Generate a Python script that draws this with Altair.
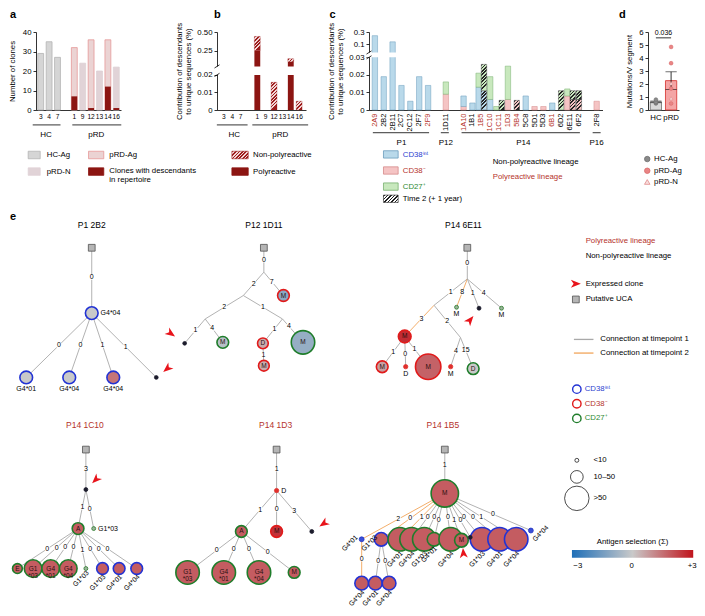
import altair as alt
import numpy as np
import pandas as pd

SX, SY = 0.978, 0.975
FONT = "Liberation Sans"
RED_T = "#b5332b"
BLUE_T = "#2b40cf"
GREEN_T = "#2d8a30"
DARKRED = "#8c1512"

# ======================= values =======================
# panel a
a_patients = ["3", "4", "7", "1", "9", "12", "13", "14", "16"]
a_cohort = ["HC", "HC", "HC", "pRD", "pRD", "pRD", "pRD", "pRD", "pRD"]
a_type = ["HC-Ag", "HC-Ag", "HC-Ag", "pRD-Ag", "pRD-N", "pRD-Ag", "pRD-N", "pRD-Ag", "pRD-N"]
a_clones = [29, 35, 27, 32, 24, 36, 20, 36, 22]
a_desc = [0, 0, 0, 7, 0, 1, 0, 12, 1]
a_ticks = [0, 10, 20, 30, 40]

# panel b
b_poly = [0, 0, 0, 0.25, 0, 0, 0, 0.10, 0]
b_nonpoly = [0, 0, 0, 0.19, 0, 0.0158, 0, 0.04, 0.005]
b_ticks = [0, 0.01, 0.02, 0.25, 0.5]

# panel c
c_clones = ["2A9", "2B2", "2B11", "2C7", "2C12", "2F7", "2F9", "1D11", "1A10", "1B1", "1B5", "1C10",
            "1C11", "1D3", "5B4", "5C8", "5D1", "5D3", "6B1", "6D2", "6E11", "6F2", "2F8"]
c_patient = ["P1"] * 7 + ["P12"] + ["P14"] * 14 + ["P16"]
c_poly_lineage = ["2A9", "2F9", "1A10", "1B5", "1C10", "1C11", "1D3", "5B4", "6B1"]
seg_clone = ["2A9", "2B2", "2B11", "2C7", "2C12", "2F7", "2F9", "1D11", "1D11", "1A10", "1A10", "1B1",
             "1B5", "1B5", "1B5", "1B5", "1C10", "1C10", "1C11", "1C11", "1D3", "1D3", "5B4", "5C8",
             "5D1", "5D3", "6B1", "6D2", "6E11", "6E11", "6E11", "6E11", "6F2", "6F2", "2F8"]
seg_time = [1, 1, 1, 1, 1, 1, 1, 1, 1, 1, 1, 1, 1, 1, 2, 2, 1, 1, 1, 2, 1, 1, 2, 1, 1, 1, 1, 2,
            1, 1, 2, 2, 2, 2, 1]
seg_type = ["CD38int"] * 7 + ["CD38-", "CD27+", "CD38-", "CD38int", "CD38int",
            "CD38int", "CD27+", "CD38int", "CD27+", "CD38int", "CD27+", "CD27+", "CD27+",
            "CD38-", "CD27+", "CD38-", "CD38int", "CD38-", "CD38-", "CD38int", "CD27+",
            "CD38-", "CD27+", "CD38-", "CD27+", "CD38-", "CD27+", "CD38-"]
seg_value = [0.24, 0.019, 0.14, 0.014, 0.005, 0.019, 0.014, 0.009, 0.007, 0.002, 0.006, 0.004,
             0.013, 0.008, 0.011, 0.015, 0.006, 0.013, 0.002, 0.0055, 0.006, 0.019, 0.0055, 0.008,
             0.002, 0.002, 0.004, 0.011, 0.008, 0.004, 0.006, 0.005, 0.006, 0.005, 0.005]
c_ticks = [0, 0.01, 0.02, 0.03, 0.1, 0.3]

# panel d
d_hc = [0.5, 0.58, 0.62, 0.8]
d_prd = [4.85, 3.6, 2.05, 1.65, 0.9, 0.5]
d_prd_type = ["pRD-Ag", "pRD-Ag", "pRD-N", "pRD-Ag", "pRD-N", "pRD-Ag"]
d_ticks = [0, 1, 2, 3, 4, 5, 6]
d_pvalue = "0.036"

# panel e: lineage trees  (tree, id, layout x, layout y, radius, kind, antigen selection, ring, inner, outer, label pos)
tree_nodes = [
    ("t1", "u1", 85, 243, 0, "u", 0, "", "", "", ""),
    ("t1", "n1", 85, 310, 6.5, "n", 0.0, "int", "", "G4*04", "R"),
    ("t1", "n2", 18, 376, 6.5, "n", 0.0, "int", "", "G4*01", "B"),
    ("t1", "n3", 62, 376, 6.5, "n", 0.0, "int", "", "G4*04", "B"),
    ("t1", "n4", 107, 376, 6.5, "n", 1.4, "int", "", "G4*04", "B"),
    ("t1", "n5", 151, 376, 1.9, "dk", 0, "", "", "", ""),
    ("t2", "u2", 261, 243, 0, "u", 0, "", "", "", ""),
    ("t2", "j1", 261, 268, 0, "j", 0, "", "", "", ""),
    ("t2", "m1", 281, 292, 6, "n", -1.1, "neg", "M", "", ""),
    ("t2", "j2", 240, 292, 0, "j", 0, "", "", "", ""),
    ("t2", "j3", 201, 316, 0, "j", 0, "", "", "", ""),
    ("t2", "x1", 180, 341, 1.9, "dk", 0, "", "", "", ""),
    ("t2", "m2", 219, 340, 6, "n", -0.3, "pos", "M", "", ""),
    ("t2", "j4", 280, 316, 0, "j", 0, "", "", "", ""),
    ("t2", "dD", 260, 341, 5.5, "n", 0.5, "neg", "D", "", ""),
    ("t2", "dM", 261, 364, 5.5, "n", 0.5, "neg", "M", "", ""),
    ("t2", "p12bM", 301, 340, 12, "n", -0.9, "pos", "M", "", ""),
    ("t3", "u3", 469, 243, 0, "u", 0, "", "", "", ""),
    ("t3", "j5", 469, 275, 0, "j", 0, "", "", "", ""),
    ("t3", "j6", 435, 302, 0, "j", 0, "", "", "", ""),
    ("t3", "e1", 458, 304, 2, "dg", 0, "pos", "", "M", "B"),
    ("t3", "e2", 481, 305, 2, "dk", 0, "", "", "", ""),
    ("t3", "e3", 504, 305, 2, "dg", 0, "pos", "", "M", "B"),
    ("t3", "mM", 405, 334, 6.5, "n", 2.6, "neg", "M", "", ""),
    ("t3", "j7", 462, 335, 0, "j", 0, "", "", "", ""),
    ("t3", "m3", 382, 365, 6, "n", 0.7, "neg", "M", "", ""),
    ("t3", "dD2", 406, 365, 2.2, "dr", 0, "", "", "D", "B"),
    ("t3", "bM2", 429, 365, 13, "n", 1.7, "neg", "M", "", ""),
    ("t3", "dM2", 452, 365, 2.2, "dr", 0, "", "", "M", "B"),
    ("t3", "gD", 475, 367, 6, "n", 0.0, "pos", "D", "", ""),
    ("t4", "u4", 79, 450, 0, "u", 0, "", "", "", ""),
    ("t4", "c1", 79, 491, 2, "dk", 0, "", "", "", ""),
    ("t4", "cA", 71, 531, 6, "n", 1.8, "pos", "A", "", ""),
    ("t4", "cg", 87, 531, 2, "dg", 0, "pos", "", "G1*03", "R"),
    ("t4", "cE", 9, 572, 5, "n", 1.8, "pos", "E", "", ""),
    ("t4", "c13", 25, 572, 9, "n", 1.8, "pos", "G1\n*03", "", ""),
    ("t4", "c41", 43, 572, 9, "n", 1.8, "pos", "G4\n*01", "", ""),
    ("t4", "c44", 61, 572, 9, "n", 1.8, "pos", "G4\n*04", "", ""),
    ("t4", "cd", 79, 572, 2, "dg", 0, "pos", "", "G1*03", "rot"),
    ("t4", "cb1", 96, 572, 6, "n", 1.8, "int", "", "G1*03", "rot"),
    ("t4", "cb2", 113, 572, 6, "n", 1.8, "int", "", "G4*01", "rot"),
    ("t4", "cb3", 131, 572, 6, "n", 1.8, "int", "", "G4*04", "rot"),
    ("t5", "u5", 274, 450, 0, "u", 0, "", "", "", ""),
    ("t5", "dR", 274, 492, 2.2, "dr", 0, "", "", "D", "R"),
    ("t5", "dA", 238, 534, 6, "n", 1.8, "pos", "A", "", ""),
    ("t5", "dM1", 274, 534, 6, "n", 2.5, "neg", "M", "", ""),
    ("t5", "dk5", 310, 534, 2, "dk", 0, "", "", "", ""),
    ("t5", "f13", 183, 576, 12, "n", 1.8, "pos", "G1\n*03", "", ""),
    ("t5", "f41", 220, 576, 12, "n", 1.8, "pos", "G4\n*01", "", ""),
    ("t5", "f44", 256, 576, 12, "n", 1.8, "pos", "G4\n*04", "", ""),
    ("t5", "fM", 292, 576, 6, "n", 1.8, "pos", "M", "", ""),
    ("t6", "u6", 446, 450, 0, "u", 0, "", "", "", ""),
    ("t6", "bM", 446, 495, 14, "n", 1.8, "pos", "M", "", ""),
    ("t6", "k1", 361, 542, 2.5, "db", 0, "int", "", "G4*01", "rotL"),
    ("t6", "k2", 381, 542, 7, "n", 1.8, "int", "", "G1*03", "rotL"),
    ("t6", "g1", 400, 542, 12, "n", 1.8, "pos", "", "G4*01", "rot"),
    ("t6", "g2", 412, 542, 12, "n", 1.8, "pos", "", "G4*04", "rot"),
    ("t6", "g3", 425, 542, 12, "n", 1.8, "pos", "", "G1*03", "rot"),
    ("t6", "g4", 435, 542, 7, "n", 1.8, "pos", "", "G4*01", "rot"),
    ("t6", "g5", 452, 542, 12, "n", 1.8, "pos", "", "G4*04", "rot"),
    ("t6", "gM", 463, 543, 7, "n", 1.8, "pos", "M", "", ""),
    ("t6", "kx", 472, 540, 2, "dk", 0, "", "", "", ""),
    ("t6", "bb1", 484, 542, 12, "n", 1.8, "int", "", "G1*03", "rot"),
    ("t6", "bb2", 502, 542, 12, "n", 1.8, "int", "", "G4*01", "rot"),
    ("t6", "bb3", 519, 542, 12, "n", 1.8, "int", "", "G4*04", "rot"),
    ("t6", "bd", 534, 533, 2.5, "db", 0, "int", "", "G4*04", "rotR"),
    ("t6", "kk1", 361, 587, 7, "n", 1.8, "int", "", "G4*04", "rot"),
    ("t6", "kk2", 375, 587, 7, "n", 1.8, "int", "", "G4*01", "rot"),
    ("t6", "kk3", 389, 587, 7, "n", 1.8, "int", "", "G4*04", "rot"),
]
tree_edges = [
    ("u1", "n1", "0", 1), ("n1", "n2", "0", 1), ("n1", "n3", "0", 1), ("n1", "n4", "1", 1), ("n1", "n5", "1", 1),
    ("u2", "j1", "0", 1), ("j1", "j2", "2", 1), ("j1", "m1", "7", 1), ("j2", "j3", "2", 1), ("j2", "j4", "1", 1),
    ("j3", "x1", "1", 1), ("j3", "m2", "4", 1), ("j4", "dD", "1", 1), ("j4", "p12bM", "4", 1), ("dD", "dM", "1", 1),
    ("u3", "j5", "0", 1), ("j5", "j6", "1", 1), ("j5", "e1", "8", 2), ("j5", "e2", "1", 1), ("j5", "e3", "4", 1),
    ("j6", "mM", "3", 2), ("j6", "j7", "2", 1), ("mM", "m3", "1", 1), ("mM", "dD2", "0", 1), ("mM", "bM2", "1", 1),
    ("j7", "dM2", "4", 1), ("j7", "gD", "15", 1),
    ("u4", "c1", "3", 1), ("c1", "cA", "1", 1), ("c1", "cg", "0", 1), ("cA", "cE", "0", 1), ("cA", "c13", "0", 1),
    ("cA", "c41", "0", 1), ("cA", "c44", "0", 1), ("cA", "cd", "1", 1), ("cA", "cb1", "0", 1), ("cA", "cb2", "0", 1),
    ("cA", "cb3", "0", 1),
    ("u5", "dR", "1", 1), ("dR", "dA", "1", 1), ("dR", "dM1", "0", 1), ("dR", "dk5", "3", 1), ("dA", "f13", "0", 1),
    ("dA", "f41", "0", 1), ("dA", "f44", "0", 1), ("dA", "fM", "0", 1),
    ("u6", "bM", "1", 1), ("bM", "k1", "2", 2), ("bM", "k2", "0", 2), ("bM", "g1", "1", 2), ("bM", "g2", "0", 1),
    ("bM", "g3", "0", 1), ("bM", "g4", "0", 1), ("bM", "g5", "0", 1), ("bM", "gM", "1", 1), ("bM", "kx", "0", 1),
    ("bM", "bb1", "0", 1), ("bM", "bb2", "0", 1), ("bM", "bb3", "1", 1), ("bM", "bd", "0", 1),
    ("k1", "kk1", "0", 2), ("k2", "kk2", "0", 1), ("k2", "kk3", "0", 1),
]
tree_titles = [("P1 2B2", 85, 220, "black"), ("P12 1D11", 261, 220, "black"), ("P14 6E11", 465, 220, "black"),
               ("P14 1C10", 78, 425, RED_T), ("P14 1D3", 273, 425, RED_T), ("P14 1B5", 444, 425, RED_T)]
expressed_arrows = [(162, 367, 140), (166, 331, 35), (472, 317, 310), (89, 481, 135), (322, 526, 146), (465, 556, 265)]

# ======================= styles / layout =======================
HT = 80 * SY
WA, WB, WC, WD = 85.0, 89.0, 233.5, 31.0
GAP_AB, GAP_BC, GAP_CD = 96.0, 62.5, 45.0
CW = (705 - 28) * SX

C_FILL = {"CD38int": "#b9d9ea", "CD38-": "#f5c4c4", "CD27+": "#c8e8bd"}
C_STRK = {"CD38int": "#6a9cbc", "CD38-": "#d48a8a", "CD27+": "#78b070"}
RING = {"int": "#2233d4", "neg": "#e11a1a", "pos": "#1f7d2b", "": "#1a1a2a"}
SEL_RANGE = ["#1f6fb8", "#c9c9c9", "#c0141c"]


def hatch(w, h, dark, light, period=3.5):
    h = max(float(h), 1.0)
    gx = float(w) / h
    n = max(2, int(round(2 * h * (gx * gx + 1) / period)))
    stops = []
    for i in range(n):
        col = dark if i % 2 == 0 else light
        stops.append(alt.GradientStop(color=col, offset=round(i / n, 4)))
        stops.append(alt.GradientStop(color=col, offset=round((i + 1) / n, 4)))
    return alt.LinearGradient(gradient="linear", stops=stops, x1=0, y1=0, x2=round(gx, 4), y2=1)


def px(v, dom, rng):
    return float(np.interp(v, dom, rng))


def break_marks(vals, dom, rng):
    """Two short slanted strokes on the y axis at each end of the axis break."""
    out = []
    for v in vals:
        p = px(v, dom, rng)
        out.append(alt.Chart(pd.DataFrame({"k": [0]})).mark_rule(color="black", strokeWidth=0.8).encode(
            x=alt.value(-2.5), x2=alt.value(2.5), y=alt.value(p + 1.6), y2=alt.value(p - 1.6)))
    return out


def group_layers(groups, scale, axis, y_line, y_text, offs, dxs):
    layers = []
    for (g, s, e, m), (o1, o2), dx in zip(groups, offs, dxs):
        d = pd.DataFrame({"g": [g], "s": [s], "e": [e], "m": [m]})
        layers.append(alt.Chart(d).mark_rule(color="black", strokeWidth=0.8, xOffset=o1, x2Offset=o2).encode(
            x=alt.X("s:N", scale=scale, axis=axis), x2="e:N", y=alt.value(y_line)))
        layers.append(alt.Chart(d).mark_text(dx=dx, fontSize=8, baseline="middle").encode(
            x=alt.X("m:N", scale=scale, axis=axis), y=alt.value(y_text), text="g:N"))
    return layers


def cohorts(names, groups):
    out = []
    for g in dict.fromkeys(groups):
        mem = [n for n, gg in zip(names, groups) if gg == g]
        out.append((g, mem[0], mem[-1], mem[(len(mem) - 1) // 2]))
    return out


# ======================= panel a =======================
dfa = pd.DataFrame({"patient": a_patients, "cohort": a_cohort, "type": a_type,
                    "clones": a_clones, "desc": a_desc})
hc_p = [p for p, c in zip(a_patients, a_cohort) if c == "HC"]
prd_p = [p for p, c in zip(a_patients, a_cohort) if c == "pRD"]
slots_ab = hc_p + [" "] + prd_p
ax_xab = alt.Axis(title=None, labelAngle=0, ticks=False, labelPadding=3, labelFontSize=6.6)
sc_xa = alt.Scale(domain=slots_ab, range=[0, WA], paddingInner=0.3, paddingOuter=0.21)
sc_ya = alt.Scale(domain=[0, 40], nice=False)
ax_ya = alt.Axis(values=a_ticks, title="Number of clones", titlePadding=6)
a_types = ["HC-Ag", "pRD-Ag", "pRD-N"]
a_bars = alt.Chart(dfa).mark_bar(strokeWidth=0.8).encode(
    x=alt.X("patient:N", scale=sc_xa, axis=ax_xab),
    y=alt.Y("clones:Q", scale=sc_ya, axis=ax_ya),
    fill=alt.Fill("type:N", scale=alt.Scale(domain=a_types, range=["#d5d5d5", "#ebd3d3", "#e1d3d7"]), legend=None),
    stroke=alt.Stroke("type:N", scale=alt.Scale(domain=a_types, range=["#b4b4b4", "#e69898", "#ddd0d4"]), legend=None))
a_descl = alt.Chart(dfa).transform_filter("datum.desc > 0").mark_bar(color=DARKRED).encode(
    x=alt.X("patient:N", scale=sc_xa, axis=ax_xab), y=alt.Y("desc:Q", scale=sc_ya, axis=ax_ya))
step_a = WA / (len(slots_ab) - 0.3 + 2 * 0.21)
panel_a = alt.layer(a_bars, a_descl, *group_layers(
    cohorts(a_patients, a_cohort), sc_xa, ax_xab, HT + 15.3 * SY, HT + 25.3 * SY,
    [(-8, 3), (-2, 5)], [-3, step_a / 2 + 1]))

# ======================= panel b =======================
dfb = pd.DataFrame({"patient": a_patients, "poly": b_poly, "nonpoly": b_nonpoly})
dfb["top"] = dfb["poly"] + dfb["nonpoly"]
b_dom = [0, 0.02, 0.036, 0.5]
b_rng = [80 * SY, 44 * SY, 35.3 * SY, 0]
sc_xb = alt.Scale(domain=slots_ab, range=[0, WB], paddingInner=0.3, paddingOuter=0.47)
sc_yb = alt.Scale(domain=b_dom, range=b_rng, nice=False)
ax_yb = alt.Axis(values=b_ticks, title=["Contribution of descendants", "to unique sequences (%)"],
                 labelExpr="datum.value == 0 ? '0' : datum.value == 0.5 ? '0.50' : format(datum.value, '.2f')",
                 zindex=0, titlePadding=4)
xb = alt.X("patient:N", scale=sc_xb, axis=ax_xab)
b_layers = [alt.Chart(dfb).transform_filter("datum.poly > 0").mark_bar(color=DARKRED).encode(
    x=xb, y=alt.Y("poly:Q", scale=sc_yb, axis=ax_yb))]
step_b = WB / (len(slots_ab) - 0.3 + 2 * 0.47)
bw_b = step_b * 0.7
for p, lo, hi in zip(dfb["patient"], dfb["poly"], dfb["top"]):
    if hi - lo <= 0:
        continue
    h = abs(px(hi, b_dom, b_rng) - px(lo, b_dom, b_rng))
    b_layers.append(alt.Chart(dfb).transform_filter(f"datum.patient == '{p}'").mark_bar(
        fill=hatch(bw_b, h, "#9c1d1d", "#f3d6d6"), stroke="#9c1d1d", strokeWidth=0.3).encode(
        x=xb, y=alt.Y("top:Q", scale=sc_yb, axis=ax_yb), y2="poly:Q"))
b_layers.append(alt.Chart(pd.DataFrame({"a": [0.02], "b": [0.036]})).mark_rect(color="white").encode(
    x=alt.value(-2), x2=alt.value(WB), y=alt.Y("b:Q", scale=sc_yb, axis=ax_yb), y2="a:Q"))
b_layers += break_marks([0.02, 0.036], b_dom, b_rng)
chart_b = alt.layer(*b_layers, *group_layers(
    cohorts(a_patients, a_cohort), sc_xb, ax_xab, HT + 15.3 * SY, HT + 25.3 * SY,
    [(-7, 7), (-5, 9)], [2, step_b / 2 + 2])).properties(width=WB + GAP_BC, height=HT)

# ======================= panel c =======================
c_slots, prev, gi = [], None, 0
for cl, pt in zip(c_clones, c_patient):
    if prev is not None and pt != prev:
        gi += 1
        c_slots.append("~" + str(gi))
    c_slots.append(cl)
    prev = pt
dfc = pd.DataFrame({"clone": seg_clone, "time": seg_time, "type": seg_type, "v": seg_value})
dfc["y1"] = dfc.groupby(["clone", "time"])["v"].cumsum()
dfc["y0"] = dfc["y1"] - dfc["v"]
ntimes = dfc.groupby("clone")["time"].nunique()
dfc["pair"] = [int(ntimes[c] > 1) for c in dfc["clone"]]
dfc["sid"] = list(range(len(dfc)))
c_dom = [0, 0.03, 0.04, 0.1, 0.3]
c_rng = [80 * SY, 26 * SY, 21 * SY, 12.6 * SY, 0]
sc_xc = alt.Scale(domain=c_slots, range=[0, WC], paddingInner=0.4, paddingOuter=0.36)
poly_list = "[" + ",".join("'" + c + "'" for c in c_poly_lineage) + "]"
ax_xc = alt.Axis(title=None, labelAngle=270, ticks=False, labelPadding=3, labelFontSize=7.5,
                 labelExpr="substring(datum.value, 0, 1) == '~' ? '' : datum.label",
                 labelColor={"condition": {"test": f"indexof({poly_list}, datum.value) >= 0", "value": RED_T},
                             "value": "black"})
sc_yc = alt.Scale(domain=c_dom, range=c_rng, nice=False)
ax_yc = alt.Axis(values=c_ticks, title=["Contribution of descendants", "to unique sequences (%)"],
                 labelExpr="datum.value == 0 ? '0' : format(datum.value, '~g')", zindex=0, titlePadding=4)
xc = alt.X("clone:N", scale=sc_xc, axis=ax_xc)
BWC = 5.4
OFF = 2.75 * SX
c_types = ["CD38int", "CD38-", "CD27+"]
c_fill = alt.Scale(domain=c_types, range=[C_FILL[t] for t in c_types])
c_strk = alt.Scale(domain=c_types, range=[C_STRK[t] for t in c_types])
c_layers = []
for pflag in (0, 1):
    mk = dict(width=BWC, strokeWidth=0.5)
    if pflag:
        mk["xOffset"] = -OFF
    c_layers.append(alt.Chart(dfc).transform_filter(f"datum.time == 1 && datum.pair == {pflag}").mark_bar(**mk).encode(
        x=xc, y=alt.Y("y1:Q", scale=sc_yc, axis=ax_yc), y2="y0:Q",
        fill=alt.Fill("type:N", scale=c_fill, legend=None),
        stroke=alt.Stroke("type:N", scale=c_strk, legend=None)))
for _, r in dfc[dfc["time"] == 2].iterrows():
    h = abs(px(r["y1"], c_dom, c_rng) - px(r["y0"], c_dom, c_rng))
    mk = dict(width=BWC, fill=hatch(BWC, h, "#262626", C_FILL[r["type"]]), stroke="#3a3a3a", strokeWidth=0.4)
    if r["pair"]:
        mk["xOffset"] = OFF
    c_layers.append(alt.Chart(dfc).transform_filter(f"datum.sid == {int(r['sid'])}").mark_bar(**mk).encode(
        x=xc, y=alt.Y("y1:Q", scale=sc_yc, axis=ax_yc), y2="y0:Q"))
c_layers.append(alt.Chart(pd.DataFrame({"a": [0.03], "b": [0.04]})).mark_rect(color="white").encode(
    x=alt.value(-2), x2=alt.value(WC), y=alt.Y("b:Q", scale=sc_yc, axis=ax_yc), y2="a:Q"))
c_layers += break_marks([0.03, 0.04], c_dom, c_rng)
step_c = WC / (len(c_slots) - 0.4 + 2 * 0.36)
chart_c = alt.layer(*c_layers, *group_layers(
    cohorts(c_clones, c_patient), sc_xc, ax_xc, HT + 23.3 * SY, HT + 34.3 * SY,
    [(-2, 1), (-5, 3), (-2, 1), (-4, 4)], [0, 0, step_c / 2 + 2, 0])).properties(width=WC + GAP_CD, height=HT)

# ======================= panel d =======================
dfd = pd.DataFrame({"cohort": ["HC"] * len(d_hc) + ["pRD"] * len(d_prd),
                    "ptype": ["HC-Ag"] * len(d_hc) + d_prd_type, "v": d_hc + d_prd})
sc_xd = alt.Scale(domain=["HC", "pRD"], paddingInner=0.26, paddingOuter=0.15)
ax_xd = alt.Axis(title=None, labelAngle=0, ticks=False, labelPadding=3)
sc_yd = alt.Scale(domain=[0, 6], nice=False)
ax_yd = alt.Axis(values=d_ticks, title="Mutations/V segment", titlePadding=5)
xd = alt.X("cohort:N", scale=sc_xd, axis=ax_xd)
d_bar = alt.Chart(dfd).mark_bar(strokeWidth=0.9).encode(
    x=xd, y=alt.Y("mean(v):Q", scale=sc_yd, axis=ax_yd),
    fill=alt.Fill("cohort:N", scale=alt.Scale(domain=["HC", "pRD"], range=["#d9d9d9", "#f4a5a5"]), legend=None),
    stroke=alt.Stroke("cohort:N", scale=alt.Scale(domain=["HC", "pRD"], range=["#7a7a7a", "#d8403c"]), legend=None))
d_err = alt.Chart(dfd).mark_errorbar(extent="stderr", ticks=True, color="black", thickness=0.8).encode(
    x=xd, y=alt.Y("v:Q", scale=sc_yd, axis=ax_yd))
p_types = ["HC-Ag", "pRD-Ag", "pRD-N"]
d_pts = alt.Chart(dfd).mark_point(filled=True, size=14, opacity=1, strokeWidth=0.6).encode(
    x=xd, y=alt.Y("v:Q", scale=sc_yd, axis=ax_yd),
    shape=alt.Shape("ptype:N", scale=alt.Scale(domain=p_types, range=["circle", "circle", "triangle-up"]), legend=None),
    fill=alt.Fill("ptype:N", scale=alt.Scale(domain=p_types, range=["#8a8a8a", "#ea8585", "#f8dede"]), legend=None),
    stroke=alt.Stroke("ptype:N", scale=alt.Scale(domain=p_types, range=["#707070", "#d86a6a", "#e08a8a"]), legend=None))
brd = pd.DataFrame({"a": ["HC"], "b": ["pRD"], "y": [5.55], "t": [d_pvalue]})
d_br = alt.Chart(brd).mark_rule(strokeWidth=0.8, color="black").encode(
    x=alt.X("a:N", scale=sc_xd, axis=ax_xd), x2="b:N", y=alt.Y("y:Q", scale=sc_yd, axis=ax_yd))
step_d = WD / (2 - 0.26 + 0.3)
d_pt = alt.Chart(brd).mark_text(dx=step_d / 2, dy=-4.5, fontSize=7).encode(
    x=alt.X("a:N", scale=sc_xd, axis=ax_xd), y=alt.Y("y:Q", scale=sc_yd, axis=ax_yd), text="t:N")
chart_d = alt.layer(d_bar, d_err, d_pts, d_br, d_pt).resolve_scale(
    fill="independent", stroke="independent").properties(width=WD, height=HT)

# ======================= canvas (legends + panel e), drawn as an independent layer of chart a ====
XC = alt.Scale(domain=[28, 705], range=[0, CW])
YC = alt.Scale(domain=[21.7, 616], range=[0, (616 - 21.7) * SY])


def cx(f="x"):
    return alt.X(f"{f}:Q", scale=XC, axis=None)


def cy(f="y"):
    return alt.Y(f"{f}:Q", scale=YC, axis=None)


def raw_color(f):
    return alt.Color(f"{f}:N", scale=None, legend=None)


def raw_stroke(f):
    return alt.Stroke(f"{f}:N", scale=None, legend=None)


def raw_size(f):
    return alt.Size(f"{f}:Q", scale=None, legend=None)


def text_layer(rows, align="left", angle=0, size=7.8, weight="normal", line=False):
    df = pd.DataFrame(rows, columns=["t", "x", "y", "c"])
    mk = dict(align=align, baseline="middle", fontSize=size, fontWeight=weight)
    if angle:
        mk["angle"] = angle
    if line:
        mk["lineBreak"] = "\n"
        mk["lineHeight"] = 7
    return alt.Chart(df).mark_text(**mk).encode(x=cx(), y=cy(), text="t:N", color=raw_color("c"))


canvas = []
sw = pd.DataFrame([
    (20, 32.3, 144, 151.7, "#d5d5d5", "#b4b4b4"),
    (81.7, 97.3, 144, 151.7, "#ebd3d3", "#e69898"),
    (20, 32.3, 161, 168.7, "#e1d3d7", "#e1d3d7"),
    (81.7, 97.3, 161, 168.7, DARKRED, DARKRED),
    (228.3, 245, 161, 168.7, DARKRED, DARKRED),
    (383.3, 398.3, 143.5, 151, C_FILL["CD38int"], C_STRK["CD38int"]),
    (383.3, 398.3, 160, 167.5, C_FILL["CD38-"], C_STRK["CD38-"]),
    (383.3, 398.3, 176.5, 184, C_FILL["CD27+"], C_STRK["CD27+"]),
], columns=["x", "x2", "y", "y2", "f", "s"])
canvas.append(alt.Chart(sw).mark_rect(strokeWidth=0.8).encode(
    x=cx(), x2="x2:Q", y=cy(), y2="y2:Q", color=raw_color("f"), stroke=raw_stroke("s")))
for (x1, x2, y1, y2, dk, lt) in [(228.3, 245, 144, 151.7, "#9c1d1d", "#f3d6d6"),
                                 (383.3, 398.3, 189, 196.5, "#1e1e1e", "#ffffff")]:
    d = pd.DataFrame({"x": [x1], "x2": [x2], "y": [y1], "y2": [y2]})
    canvas.append(alt.Chart(d).mark_rect(fill=hatch((x2 - x1) * SX, (y2 - y1) * SY, dk, lt), stroke=dk,
                                         strokeWidth=0.6).encode(x=cx(), x2="x2:Q", y=cy(), y2="y2:Q"))
dleg = pd.DataFrame({"x": [653, 653, 653], "y": [152, 164, 175.5], "sh": ["circle", "circle", "triangle-up"],
                     "f": ["#8a8a8a", "#ea8585", "#f8dede"], "s": ["#707070", "#d86a6a", "#e08a8a"]})
canvas.append(alt.Chart(dleg).mark_point(filled=True, size=30, opacity=1, strokeWidth=0.8).encode(
    x=cx(), y=cy(), shape=alt.Shape("sh:N", scale=None, legend=None), color=raw_color("f"),
    stroke=raw_stroke("s")))

nd = pd.DataFrame(tree_nodes, columns=["tree", "id", "x", "y", "r", "kind", "sel", "ring", "inner", "outer", "lpos"])
pos = {r.id: (r.x, r.y, r.r) for r in nd.itertuples()}
erows = []
for a, b, lab, tp in tree_edges:
    xa_, ya_, ra = pos[a]
    xb_, yb_, rb = pos[b]
    L = max(np.hypot(xb_ - xa_, yb_ - ya_), 1e-6)
    ux, uy = (xb_ - xa_) / L, (yb_ - ya_) / L
    sx_, sy_ = xa_ + ux * ra, ya_ + uy * ra
    ex_, ey_ = xb_ - ux * rb, yb_ - uy * rb
    erows.append((xa_, ya_, xb_, yb_, "#f2a55a" if tp == 2 else "#a9a9a9", lab, (sx_ + ex_) / 2, (sy_ + ey_) / 2))
ed = pd.DataFrame(erows, columns=["x", "y", "x2", "y2", "c", "t", "mx", "my"])
canvas.append(alt.Chart(ed).mark_rule(strokeWidth=0.9).encode(
    x=cx(), y=cy(), x2="x2:Q", y2="y2:Q", color=raw_color("c")))
canvas.append(alt.Chart(ed).mark_square(color="white", size=24, opacity=1).encode(x=cx("mx"), y=cy("my")))
canvas.append(alt.Chart(ed).mark_text(fontSize=7, baseline="middle").encode(x=cx("mx"), y=cy("my"), text="t:N"))

uca = nd[nd["kind"] == "u"][["x", "y"]]
uca = pd.concat([uca, pd.DataFrame({"x": [580], "y": [296]})], ignore_index=True)
canvas.append(alt.Chart(uca).mark_square(size=46, color="#b5b5b5", stroke="#505050", strokeWidth=0.8,
                                         opacity=1).encode(x=cx(), y=cy()))
nn = nd[nd["kind"] == "n"].copy()
nn["sz"] = (2 * nn["r"] * SX) ** 2
nn["rc"] = [RING[r] for r in nn["ring"]]
nn["sw"] = [1.6 if r >= 5 else 0.9 for r in nn["r"]]
canvas.append(alt.Chart(nn).mark_point(shape="circle", filled=True, opacity=1).encode(
    x=cx(), y=cy(), size=raw_size("sz"),
    fill=alt.Fill("sel:Q", scale=alt.Scale(domain=[-3, 0, 3], range=SEL_RANGE, interpolate="rgb"), legend=None),
    stroke=raw_stroke("rc"), strokeWidth=alt.StrokeWidth("sw:Q", scale=None, legend=None)))
dot_style = {"dk": ("#1c1c2c", "#1c1c2c"), "dr": ("#e0302c", "#e0302c"),
             "dg": ("#9bb59b", "#2a7a2a"), "db": ("#3a4fd8", "#2030c0")}
for k, (fc, sc_) in dot_style.items():
    dd = nd[nd["kind"] == k].copy()
    dd["sz"] = (2 * dd["r"] * SX) ** 2
    canvas.append(alt.Chart(dd).mark_point(shape="circle", filled=True, opacity=1, fill=fc, stroke=sc_,
                                           strokeWidth=0.8).encode(x=cx(), y=cy(), size=raw_size("sz")))
inn = nd[nd["inner"] != ""]
canvas.append(text_layer([(r.inner, r.x, r.y, "#2a1010") for r in inn.itertuples()],
                         align="center", size=6.5, line=True))
lab = nd[nd["outer"] != ""]
canvas.append(text_layer([(r.outer, r.x + r.r + 2.5, r.y, "black") for r in lab.itertuples() if r.lpos == "R"],
                         size=7))
canvas.append(text_layer([(r.outer, r.x, r.y + r.r + 5, "black") for r in lab.itertuples() if r.lpos == "B"],
                         align="center", size=7))
rot_rows = [(r.outer, r.x + 2, r.y + r.r + 1.5, "black") for r in lab.itertuples() if r.lpos == "rot"]
rot_rows += [(r.outer, r.x - 5, r.y - 3, "black") for r in lab.itertuples() if r.lpos == "rotL"]
canvas.append(text_layer(rot_rows, align="right", angle=315, size=6.8))
canvas.append(text_layer([(r.outer, r.x + 3, r.y + 10, "black") for r in lab.itertuples() if r.lpos == "rotR"],
                         align="left", angle=315, size=6.8))
ARROW = "M 1 0 L -1 -0.8 L -0.45 0 L -1 0.8 Z"
arr = pd.DataFrame(expressed_arrows + [(580, 280, 0)], columns=["x", "y", "ang"])
canvas.append(alt.Chart(arr).mark_point(shape=ARROW, filled=True, color="#e8141b", size=100, opacity=1).encode(
    x=cx(), y=cy(), angle=alt.Angle("ang:Q", scale=None)))
canvas.append(text_layer(tree_titles, align="center", size=8.5))
cl = pd.DataFrame({"x": [578, 578], "x2": [598, 598], "y": [337, 351], "c": ["#a9a9a9", "#f2a55a"]})
canvas.append(alt.Chart(cl).mark_rule(strokeWidth=1.3).encode(
    x=cx(), x2="x2:Q", y=cy(), color=raw_color("c")))
rl = pd.DataFrame({"x": [581, 581, 581], "y": [388, 403, 418], "c": [RING["int"], RING["neg"], RING["pos"]]})
canvas.append(alt.Chart(rl).mark_point(shape="circle", filled=False, size=(2 * 4.3 * SX) ** 2, strokeWidth=1.4,
                                       opacity=1).encode(x=cx(), y=cy(), color=raw_color("c")))
sl = pd.DataFrame({"x": [581, 581, 581], "y": [461, 478, 500], "r": [2, 6.5, 12.5]})
sl["sz"] = (2 * sl["r"] * SX) ** 2
canvas.append(alt.Chart(sl).mark_point(shape="circle", filled=False, color="black", strokeWidth=0.7,
                                       opacity=1).encode(x=cx(), y=cy(), size=raw_size("sz")))
cbar = alt.LinearGradient(gradient="linear", x1=0, y1=0, x2=1, y2=0, stops=[
    alt.GradientStop(color=SEL_RANGE[0], offset=0), alt.GradientStop(color=SEL_RANGE[1], offset=0.5),
    alt.GradientStop(color=SEL_RANGE[2], offset=1)])
canvas.append(alt.Chart(pd.DataFrame({"x": [576], "x2": [700], "y": [553], "y2": [561]})).mark_rect(
    fill=cbar).encode(x=cx(), x2="x2:Q", y=cy(), y2="y2:Q"))
canvas.append(text_layer([
    ("HC-Ag", 39, 148, "black"), ("pRD-Ag", 103, 148, "black"), ("pRD-N", 39, 165, "black"),
    ("Clones with descendants", 103, 164, "black"), ("in repertoire", 103, 173.5, "black"),
    ("Non-polyreactive", 250, 148, "black"), ("Polyreactive", 250, 165, "black"),
    ("CD38ⁱⁿᵗ", 403, 147.5, BLUE_T), ("CD38⁻", 403, 164, RED_T), ("CD27⁺", 403, 180.5, GREEN_T),
    ("Time 2 (+ 1 year)", 403, 193, "black"),
    ("Non-polyreactive lineage", 495, 155, "black"), ("Polyreactive lineage", 495, 170, RED_T),
    ("HC-Ag", 660, 152, "black"), ("pRD-Ag", 660, 164, "black"), ("pRD-N", 660, 175.5, "black"),
    ("Polyreactive lineage", 590, 236, RED_T), ("Non-polyreactive lineage", 590, 251, "black"),
    ("Expressed clone", 590, 280, "black"), ("Putative UCA", 590, 296, "black"),
    ("Connection at timepoint 1", 605, 337, "black"), ("Connection at timepoint 2", 605, 351, "black"),
    ("CD38ⁱⁿᵗ", 589, 388, BLUE_T), ("CD38⁻", 589, 403, RED_T), ("CD27⁺", 589, 418, GREEN_T),
    ("<10", 598, 461, "black"), ("10–50", 598, 478, "black"), (">50", 598, 500, "black"),
]))
canvas.append(text_layer([("Antigen selection (Σ)", 638, 545, "black"), ("−3", 582, 569, "black"),
                          ("0", 637, 569, "black"), ("+3", 699, 569, "black")], align="center"))
canvas.append(text_layer([("a", 1.5, 4, "black"), ("b", 210, 4, "black"), ("c", 328, 4, "black"),
                          ("d", 624, 4, "black"), ("e", 1.5, 211, "black")], size=11, weight="bold"))

chart_a = alt.layer(panel_a, alt.layer(*canvas)).resolve_scale(
    x="independent", y="independent", fill="independent", stroke="independent").properties(
    width=WA + GAP_AB, height=HT)

# ======================= assemble =======================
chart = alt.hconcat(chart_a, chart_b, chart_c, chart_d, spacing=0, bounds="flush").properties(
    padding=0).configure(font=FONT).configure_view(strokeWidth=0).configure_axis(
    labelFont=FONT, titleFont=FONT, labelFontSize=7.8, titleFontSize=7.8, titleFontWeight="normal",
    labelColor="black", titleColor="black", domainColor="black", tickColor="black", tickSize=3,
    domainWidth=0.8, tickWidth=0.8, grid=False)

chart.save("out.html", embed_options={"renderer": "svg", "actions": False})
